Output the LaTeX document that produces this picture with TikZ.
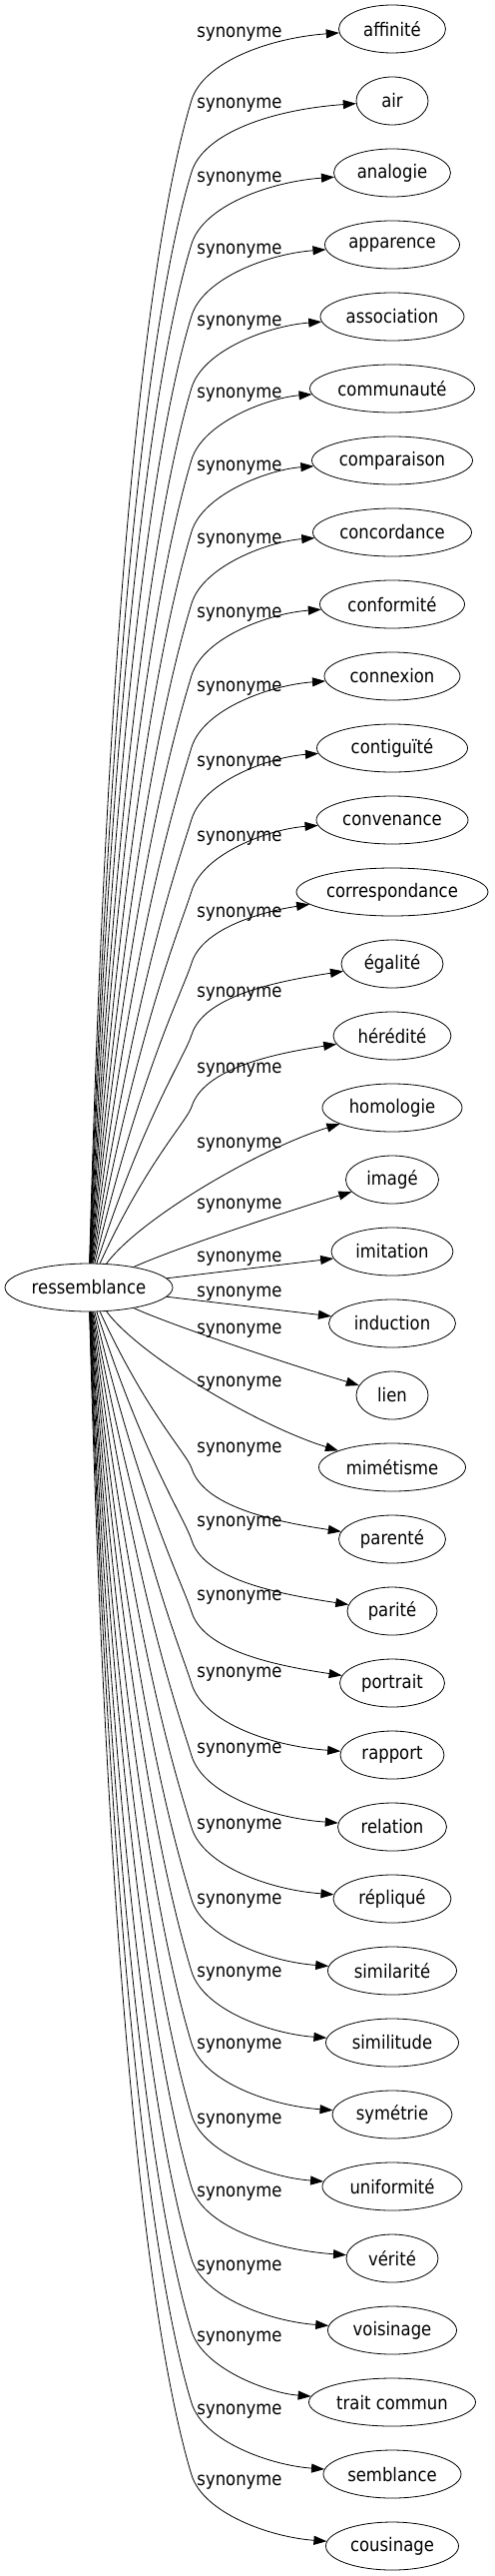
\documentclass[tikz,border=0pt]{standalone}
\usepackage{fontspec}
\setmainfont{DejaVu Sans}[FakeStretch=0.88]
\usetikzlibrary{arrows.meta,shapes.geometric}
\tikzset{
  word/.style={draw, ellipse, inner sep=0pt, minimum height=48pt},
  syn/.style={inner sep=1pt},
}

\begin{document}
\begin{tikzpicture}[x=1pt, y=1pt, line width=0.8pt, >={Triangle[length=13pt,width=9pt]}, font=\fontsize{18.7}{22}\selectfont]
      \useasboundingbox (0,0) rectangle (495,-2579);
      \node[word, minimum width=168pt] (R) at (89,-1289) {ressemblance};

      \node[word, minimum width=107pt] (affinite) at (393,-29) {affinité};
      \node[word, minimum width=72pt] (air) at (393,-101) {air};
      \node[word, minimum width=117pt] (analogie) at (393,-173) {analogie};
      \node[word, minimum width=135pt] (apparence) at (393,-245) {apparence};
      \node[word, minimum width=144pt] (association) at (393,-317) {association};
      \node[word, minimum width=165pt] (communaute) at (393,-389) {communauté};
      \node[word, minimum width=161pt] (comparaison) at (393,-461) {comparaison};
      \node[word, minimum width=159pt] (concordance) at (393,-533) {concordance};
      \node[word, minimum width=145pt] (conformite) at (393,-605) {conformité};
      \node[word, minimum width=136pt] (connexion) at (393,-677) {connexion};
      \node[word, minimum width=151pt] (contiguite) at (393,-749) {contiguïté};
      \node[word, minimum width=152pt] (convenance) at (393,-821) {convenance};
      \node[word, minimum width=192pt] (correspondance) at (393,-893) {correspondance};
      \node[word, minimum width=102pt] (egalite) at (393,-965) {égalité};
      \node[word, minimum width=118pt] (heredite) at (393,-1037) {hérédité};
      \node[word, minimum width=140pt] (homologie) at (393,-1109) {homologie};
      \node[word, minimum width=93pt] (image) at (393,-1181) {imagé};
      \node[word, minimum width=122pt] (imitation) at (393,-1253) {imitation};
      \node[word, minimum width=127pt] (induction) at (393,-1325) {induction};
      \node[word, minimum width=72pt] (lien) at (393,-1397) {lien};
      \node[word, minimum width=147pt] (mimetisme) at (393,-1469) {mimétisme};
      \node[word, minimum width=107pt] (parente) at (393,-1541) {parenté};
      \node[word, minimum width=90pt] (parite) at (393,-1613) {parité};
      \node[word, minimum width=105pt] (portrait) at (393,-1685) {portrait};
      \node[word, minimum width=104pt] (rapport) at (393,-1757) {rapport};
      \node[word, minimum width=109pt] (relation) at (393,-1829) {relation};
      \node[word, minimum width=118pt] (replique) at (393,-1901) {répliqué};
      \node[word, minimum width=129pt] (similarite) at (393,-1973) {similarité};
      \node[word, minimum width=133pt] (similitude) at (393,-2045) {similitude};
      \node[word, minimum width=120pt] (symetrie) at (393,-2117) {symétrie};
      \node[word, minimum width=140pt] (uniformite) at (393,-2189) {uniformité};
      \node[word, minimum width=92pt] (verite) at (393,-2261) {vérité};
      \node[word, minimum width=129pt] (voisinage) at (393,-2333) {voisinage};
      \node[word, minimum width=167pt] (trait) at (393,-2405) {trait commun};
      \node[word, minimum width=138pt] (semblance) at (393,-2477) {semblance};
      \node[word, minimum width=133pt] (cousinage) at (393,-2549) {cousinage};

      % labels
      \node[syn] (s1) at (240,-34) {synonyme};
      \node[syn] (s2) at (240,-105) {synonyme};
      \node[syn] (s3) at (240,-179) {synonyme};
      \node[syn] (s4) at (240,-251) {synonyme};
      \node[syn] (s5) at (240,-323) {synonyme};
      \node[syn] (s6) at (240,-395) {synonyme};
      \node[syn] (s7) at (240,-468) {synonyme};
      \node[syn] (s8) at (240,-541) {synonyme};
      \node[syn] (s9) at (240,-615) {synonyme};
      \node[syn] (s10) at (240,-689) {synonyme};
      \node[syn] (s11) at (240,-764) {synonyme};
      \node[syn] (s12) at (240,-839) {synonyme};
      \node[syn] (s13) at (240,-915) {synonyme};
      \node[syn] (s14) at (240,-995) {synonyme};
      \node[syn] (s15) at (240,-1071) {synonyme};
      \node[syn] (s16) at (240,-1146) {synonyme};
      \node[syn] (s17) at (240,-1207) {synonyme};
      \node[syn] (s18) at (240,-1260) {synonyme};
      \node[syn] (s19) at (240,-1295) {synonyme};
      \node[syn] (s20) at (240,-1332) {synonyme};
      \node[syn] (s21) at (240,-1385) {synonyme};
      \node[syn] (s22) at (240,-1451) {synonyme};
      \node[syn] (s23) at (240,-1525) {synonyme};
      \node[syn] (s24) at (240,-1599) {synonyme};
      \node[syn] (s25) at (240,-1676) {synonyme};
      \node[syn] (s26) at (240,-1752) {synonyme};
      \node[syn] (s27) at (240,-1828) {synonyme};
      \node[syn] (s28) at (240,-1903) {synonyme};
      \node[syn] (s29) at (240,-1976) {synonyme};
      \node[syn] (s30) at (240,-2048) {synonyme};
      \node[syn] (s31) at (240,-2123) {synonyme};
      \node[syn] (s32) at (240,-2196) {synonyme};
      \node[syn] (s33) at (240,-2270) {synonyme};
      \node[syn] (s34) at (240,-2341) {synonyme};
      \node[syn] (s35) at (240,-2414) {synonyme};
      \node[syn] (s36) at (240,-2485) {synonyme};

      % edges going up
      \draw [->] (R) .. controls (110,-508) and (158,-212) .. (192,-100) .. controls +(12,38) and +(-123,-9) .. (affinite);
      \draw [->] (R) .. controls (113,-555) and (160,-277) .. (192,-172) .. controls +(12,38) and +(-123,-9) .. (air);
      \draw [->] (R) .. controls (115,-601) and (162,-342) .. (192,-244) .. controls +(12,38) and +(-123,-9) .. (analogie);
      \draw [->] (R) .. controls (118,-648) and (164,-407) .. (192,-316) .. controls +(12,38) and +(-123,-9) .. (apparence);
      \draw [->] (R) .. controls (121,-695) and (167,-472) .. (192,-388) .. controls +(12,38) and +(-123,-9) .. (association);
      \draw [->] (R) .. controls (123,-742) and (169,-537) .. (192,-460) .. controls +(12,38) and +(-123,-9) .. (communaute);
      \draw [->] (R) .. controls (126,-789) and (171,-602) .. (192,-532) .. controls +(12,38) and +(-123,-9) .. (comparaison);
      \draw [->] (R) .. controls (129,-835) and (173,-667) .. (192,-604) .. controls +(12,38) and +(-123,-9) .. (concordance);
      \draw [->] (R) .. controls (131,-882) and (175,-733) .. (192,-676) .. controls +(12,38) and +(-123,-9) .. (conformite);
      \draw [->] (R) .. controls (134,-929) and (177,-798) .. (192,-748) .. controls +(12,38) and +(-123,-9) .. (connexion);
      \draw [->] (R) .. controls (137,-976) and (179,-863) .. (192,-820) .. controls +(12,38) and +(-123,-9) .. (contiguite);
      \draw [->] (R) .. controls (139,-1023) and (181,-928) .. (192,-892) .. controls +(12,38) and +(-123,-9) .. (convenance);
      \draw [->] (R) .. controls (142,-1069) and (183,-993) .. (192,-964) .. controls +(12,38) and +(-120,-18) .. (correspondance);
      \draw [->] (R) .. controls (145,-1116) and (185,-1058) .. (192,-1036) .. controls +(12,38) and +(-120,-18) .. (egalite);
      \draw [->] (R) .. controls (147,-1163) and (187,-1123) .. (192,-1108) .. controls +(12,38) and +(-120,-18) .. (heredite);
      \draw [->] (R) .. controls (140,-1220) and (260,-1150) .. (homologie);
      \draw [->] (R) .. controls (170,-1252) and (280,-1215) .. (image);
      \draw [->] (R) -- (imitation);

      % edges going down
      \draw [->] (R) -- (induction);
      \draw [->] (R) .. controls (170,-1326) and (280,-1363) .. (lien);
      \draw [->] (R) .. controls (140,-1358) and (260,-1428) .. (mimetisme);
      \draw [->] (R) .. controls (147,-1415) and (187,-1455) .. (192,-1470) .. controls +(12,-38) and +(-120,18) .. (parente);
      \draw [->] (R) .. controls (145,-1462) and (185,-1520) .. (192,-1542) .. controls +(12,-38) and +(-120,18) .. (parite);
      \draw [->] (R) .. controls (142,-1509) and (183,-1585) .. (192,-1614) .. controls +(12,-38) and +(-120,18) .. (portrait);
      \draw [->] (R) .. controls (139,-1555) and (181,-1650) .. (192,-1686) .. controls +(12,-38) and +(-123,9) .. (rapport);
      \draw [->] (R) .. controls (137,-1602) and (179,-1715) .. (192,-1758) .. controls +(12,-38) and +(-123,9) .. (relation);
      \draw [->] (R) .. controls (134,-1649) and (177,-1780) .. (192,-1830) .. controls +(12,-38) and +(-123,9) .. (replique);
      \draw [->] (R) .. controls (131,-1696) and (175,-1845) .. (192,-1902) .. controls +(12,-38) and +(-123,9) .. (similarite);
      \draw [->] (R) .. controls (129,-1743) and (173,-1911) .. (192,-1974) .. controls +(12,-38) and +(-123,9) .. (similitude);
      \draw [->] (R) .. controls (126,-1789) and (171,-1976) .. (192,-2046) .. controls +(12,-38) and +(-123,9) .. (symetrie);
      \draw [->] (R) .. controls (123,-1836) and (169,-2041) .. (192,-2118) .. controls +(12,-38) and +(-123,9) .. (uniformite);
      \draw [->] (R) .. controls (121,-1883) and (167,-2106) .. (192,-2190) .. controls +(12,-38) and +(-123,9) .. (verite);
      \draw [->] (R) .. controls (118,-1930) and (164,-2171) .. (192,-2262) .. controls +(12,-38) and +(-123,9) .. (voisinage);
      \draw [->] (R) .. controls (115,-1977) and (162,-2236) .. (192,-2334) .. controls +(12,-38) and +(-123,9) .. (trait);
      \draw [->] (R) .. controls (113,-2023) and (160,-2301) .. (192,-2406) .. controls +(12,-38) and +(-123,9) .. (semblance);
      \draw [->] (R) .. controls (110,-2070) and (158,-2366) .. (192,-2478) .. controls +(12,-38) and +(-123,9) .. (cousinage);
    \end{tikzpicture}
\end{document}
